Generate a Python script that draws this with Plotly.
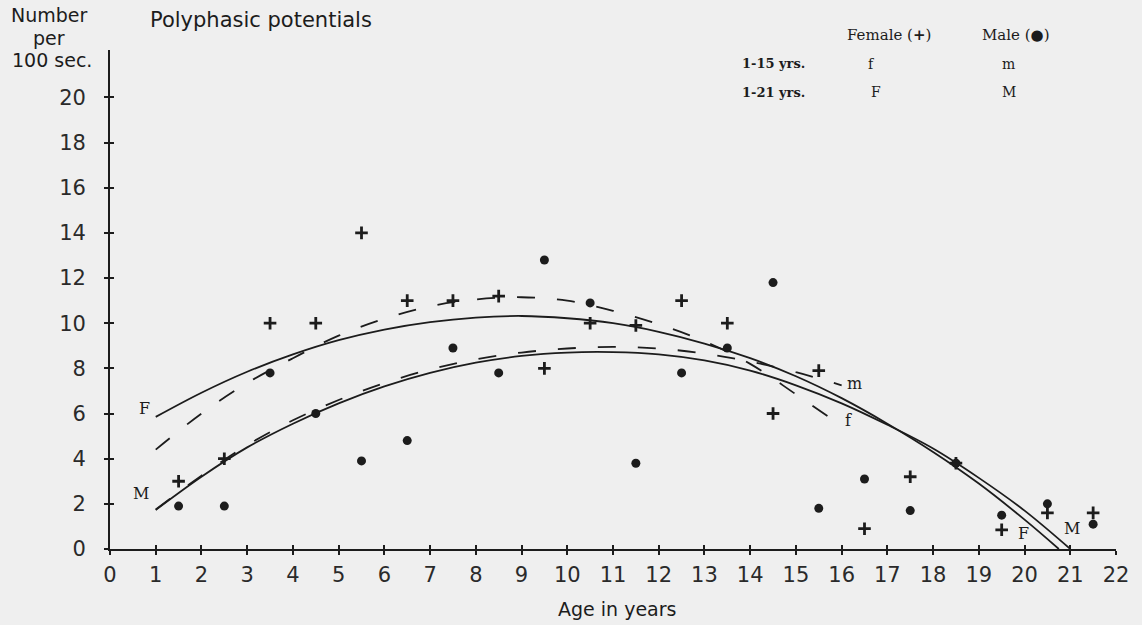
import plotly.graph_objects as go

# ---- data ----
ages = [1.5, 2.5, 3.5, 4.5, 5.5, 6.5, 7.5, 8.5, 9.5, 10.5, 11.5,
        12.5, 13.5, 14.5, 15.5, 16.5, 17.5, 18.5, 19.5, 20.5, 21.5]
female = [3.0, 4.0, 10.0, 10.0, 14.0, 11.0, 11.0, 11.2, 8.0, 10.0, 9.9,
          11.0, 10.0, 6.0, 7.9, 0.9, 3.2, 3.8, 0.85, 1.6, 1.6]
male = [1.9, 1.9, 7.8, 6.0, 3.9, 4.8, 8.9, 7.8, 12.8, 10.9, 3.8,
        7.8, 8.9, 11.8, 1.8, 3.1, 1.7, 3.8, 1.5, 2.0, 1.1]

# fitted curves
F_x = [1, 2, 3, 4, 5, 6, 7, 8, 9, 10, 11, 12, 13, 14, 15, 16, 17, 18, 19, 20, 20.75]
F_y = [5.85, 6.92, 7.85, 8.62, 9.25, 9.72, 10.05, 10.25, 10.32, 10.22, 10.0,
       9.62, 9.1, 8.45, 7.65, 6.68, 5.55, 4.3, 2.9, 1.3, 0.0]
M_x = [1, 2, 3, 4, 5, 6, 7, 8, 9, 10, 11, 12, 13, 14, 15, 16, 17, 18, 19, 20, 21]
M_y = [1.73, 3.2, 4.5, 5.55, 6.45, 7.2, 7.8, 8.25, 8.55, 8.7, 8.72,
       8.62, 8.35, 7.9, 7.25, 6.45, 5.5, 4.45, 3.15, 1.7, 0.0]
f_x = [1, 2, 3, 4, 5, 6, 7, 8, 9, 10, 11, 12, 13, 14, 15, 16]
f_y = [4.4, 6.0, 7.35, 8.45, 9.45, 10.2, 10.75, 11.05, 11.15, 11.0, 10.55,
       9.95, 9.2, 8.2, 6.85, 5.45]
m_x = [1, 2, 3, 4, 5, 6, 7, 8, 9, 10, 11, 12, 13, 14, 15, 16]
m_y = [1.75, 3.25, 4.6, 5.7, 6.6, 7.35, 7.95, 8.4, 8.7, 8.88, 8.95,
       8.88, 8.65, 8.3, 7.83, 7.25]

x_ticks = list(range(0, 23))
y_ticks = list(range(0, 21, 2))

INK = "#1c1c1c"
BG = "#efefef"
SANS = "DejaVu Sans"
SERIF = "DejaVu Serif"

fig = go.Figure()

for xs, ys, dash in [(F_x, F_y, "solid"), (M_x, M_y, "solid"),
                     (f_x, f_y, "18px,22px"), (m_x, m_y, "18px,22px")]:
    fig.add_trace(go.Scatter(x=xs, y=ys, mode="lines",
                             line=dict(color=INK, width=1.8, dash=dash, shape="spline"),
                             hoverinfo="skip", showlegend=False))

fig.add_trace(go.Scatter(x=ages, y=female, mode="markers", name="Female",
                         marker=dict(symbol="cross-thin", size=9, color=INK,
                                     line=dict(color=INK, width=2.8)),
                         showlegend=False))
fig.add_trace(go.Scatter(x=ages, y=male, mode="markers", name="Male",
                         marker=dict(symbol="circle", size=9, color=INK),
                         showlegend=False))

# dummy trace on overlay axis for inside ticks
fig.add_trace(go.Scatter(x=[None], y=[None], xaxis="x2", yaxis="y2",
                         showlegend=False, hoverinfo="skip"))

fig.update_layout(
    width=1142, height=625,
    margin=dict(l=110, r=26, t=50, b=76),
    paper_bgcolor=BG, plot_bgcolor=BG,
    showlegend=False,
    xaxis=dict(range=[0, 22.0], tickvals=x_ticks, ticktext=[str(v) for v in x_ticks],
               showgrid=False, zeroline=False, showline=True, linecolor=INK, linewidth=1.8,
               ticks="outside", ticklen=4, tickwidth=1.5, tickcolor=INK,
               ticklabelstandoff=2,
               tickfont=dict(family=SANS, size=21, color="#2a2a2a")),
    yaxis=dict(range=[0, 22.1], tickvals=y_ticks, ticktext=[str(v) for v in y_ticks],
               showgrid=False, zeroline=False, showline=True, linecolor=INK, linewidth=1.8,
               ticks="outside", ticklen=4, tickwidth=1.5, tickcolor=INK,
               ticklabelstandoff=14,
               tickfont=dict(family=SANS, size=21, color="#2a2a2a")),
    xaxis2=dict(overlaying="x", matches="x", range=[0, 22.0], tickvals=x_ticks,
                showticklabels=False, showgrid=False, zeroline=False,
                ticks="inside", ticklen=4, tickwidth=1.5, tickcolor=INK, anchor="y2"),
    yaxis2=dict(overlaying="y", range=[0, 22.1], tickvals=y_ticks + [22.1],
                showticklabels=False, showgrid=False, zeroline=False,
                ticks="inside", ticklen=4, tickwidth=1.5, tickcolor=INK, anchor="x2"),
)

ann = []
def txt(x, y, s, size, family, xanchor="center", xref="x", yref="y"):
    ann.append(dict(x=x, y=y, xref=xref, yref=yref, text=s, showarrow=False,
                    xanchor=xanchor, yanchor="middle",
                    font=dict(family=family, size=size, color=INK)))

# titles (paper coordinates relative to plot area)
txt(-0.0606, 1.070, "Number", 19, SANS, xref="paper", yref="paper")
txt(-0.0606, 1.024, "per", 19, SANS, xref="paper", yref="paper")
txt(-0.0577, 0.980, "100 sec.", 19, SANS, xref="paper", yref="paper")
txt(0.0378, 1.060, "Polyphasic potentials", 21, SANS, xanchor="left", xref="paper", yref="paper")
txt(0.504, -0.120, "Age in years", 19, SANS, xref="paper", yref="paper")

# legend block
txt(0.7306, 1.030, "Female (<b>+</b>)", 15, SERIF, xanchor="left", xref="paper", yref="paper")
txt(0.8648, 1.030, "Male (●)", 15, SERIF, xanchor="left", xref="paper", yref="paper")
txt(13.77, 21.5, "<b>1-15 yrs.</b>", 13, SERIF, xanchor="left")
txt(16.66, 21.5, "f", 14, SERIF)
txt(19.64, 21.5, "m", 14, SERIF)
txt(13.77, 20.22, "<b>1-21 yrs.</b>", 13, SERIF, xanchor="left")
txt(16.75, 20.22, "F", 14, SERIF)
txt(19.66, 20.22, "M", 14, SERIF)

# curve labels
txt(0.75, 6.24, "F", 16, SERIF)
txt(0.67, 2.48, "M", 16, SERIF)
txt(16.29, 7.35, "m", 16, SERIF)
txt(16.16, 5.7, "f", 16, SERIF)
txt(19.97, 0.7, "F", 16, SERIF)
txt(21.04, 0.93, "M", 16, SERIF)

fig.update_layout(annotations=ann)
fig.write_html("out.html", config={"displayModeBar": False},
               post_script="document.body.style.margin='0';document.body.style.background='#efefef';")
